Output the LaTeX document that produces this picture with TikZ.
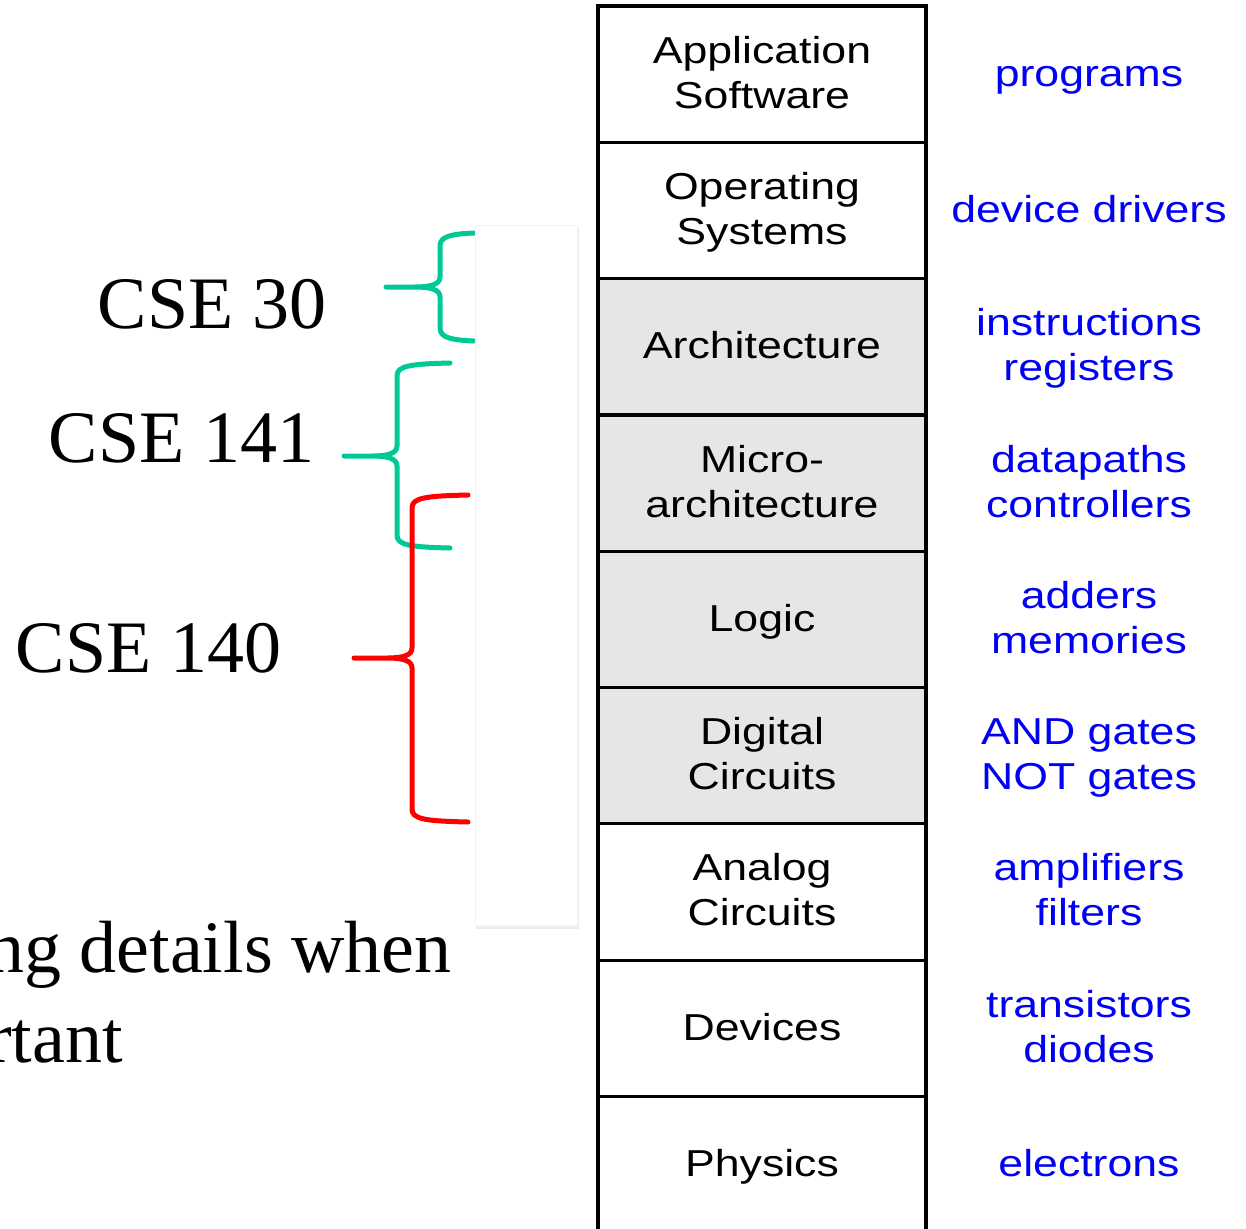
\documentclass[tikz,border=0pt]{standalone}
\usepackage{fontspec}
\setmainfont{Liberation Serif}
\newfontfamily\layerfont[FakeStretch=1.19]{Liberation Sans}
\definecolor{cseGreen}{RGB}{0,200,150}
\definecolor{cseRed}{RGB}{255,0,0}
\definecolor{noteBlue}{RGB}{0,0,245}
\definecolor{layerGray}{RGB}{230,230,230}

% curly brace: colour, arm end x, spine x, tip x, top y, tip y, bottom y
\newcommand{\coursebrace}[7]{%
  \draw[brace,#1] (#2,#5) .. controls ({#3+12},{#5+1}) and (#3,{#5+3}) .. (#3,{#5+13})
    -- (#3,{#6-10}) .. controls (#3,{#6-3}) and ({#3-8},#6) .. ({#3-25},#6) -- (#4,#6)
    -- ({#3-25},#6) .. controls ({#3-8},#6) and (#3,{#6+3}) .. (#3,{#6+10})
    -- (#3,{#7-13}) .. controls (#3,{#7-3}) and ({#3+12},{#7-1}) .. (#2,#7);}

\begin{document}
\begin{tikzpicture}[x=1pt,y=-1pt,
  layer/.style={draw=black, line width=3.2pt, minimum width=328pt,
    minimum height=136.3pt, inner sep=0pt, outer sep=0pt},
  shaded/.style={layer, fill=layerGray},
  plain/.style={layer, fill=white},
  layertext/.style={font=\layerfont\fontsize{37.5}{45}\selectfont,
    align=center, inner sep=0pt, anchor=base},
  notetext/.style={layertext, text=noteBlue},
  course/.style={font=\fontsize{74}{90}\selectfont, inner sep=0pt, anchor=base},
  brace/.style={line width=5pt, line cap=round, line join=round},
]
\useasboundingbox (0,0) rectangle (1246,1228);

% abstraction layers
\node[plain]  (app)  at (762,74.15)   {};
\node[plain]  (os)   at (762,210.45)  {};
\node[shaded] (arch) at (762,346.75)  {};
\node[shaded] (uarch) at (762,483.05) {};
\node[shaded] (logic) at (762,619.35) {};
\node[shaded] (dig)  at (762,755.65)  {};
\node[plain]  (ana)  at (762,891.95)  {};
\node[plain]  (dev)  at (762,1028.25) {};
\node[plain]  (phys) at (762,1164.55) {};

% two-line labels sit on the baseline of their second line
\node[layertext] (appT)   at (762,108.15)  {Application\\Software};
\node[layertext] (osT)    at (762,244.45)  {Operating\\Systems};
\node[layertext] (archT)  at (762,358.75)  {Architecture};
\node[layertext] (uarchT) at (762,517.05)  {Micro-\\architecture};
\node[layertext] (logicT) at (762,631.35)  {Logic};
\node[layertext] (digT)   at (762,789.65)  {Digital\\Circuits};
\node[layertext] (anaT)   at (762,925.95)  {Analog\\Circuits};
\node[layertext] (devT)   at (762,1040.25) {Devices};
\node[layertext] (physT)  at (762,1176.55) {Physics};

% what each layer deals with
\node[notetext] (appN)   at (1089,86.15)   {programs};
\node[notetext] (osN)    at (1089,222.45)  {device drivers};
\node[notetext] (archN)  at (1089,380.75)  {instructions\\registers};
\node[notetext] (uarchN) at (1089,517.05)  {datapaths\\controllers};
\node[notetext] (logicN) at (1089,653.35)  {adders\\memories};
\node[notetext] (digN)   at (1089,789.65)  {AND gates\\NOT gates};
\node[notetext] (anaN)   at (1089,925.95)  {amplifiers\\filters};
\node[notetext] (devN)   at (1089,1062.25) {transistors\\diodes};
\node[notetext] (physN)  at (1089,1176.55) {electrons};

% course braces
\coursebrace{cseGreen}{474}{440}{386}{233}{287}{341}
\coursebrace{cseGreen}{450}{397}{344}{363}{456}{548}
\coursebrace{cseRed}{468}{412}{354}{495}{658}{822}

% blank strip with a soft shadow
\fill[black!7] (476,228) rectangle (579,929);
\fill[black!4] (476,227) rectangle (578,927);
\filldraw[fill=white, draw=black!5, line width=0.8pt] (475,225) rectangle (577,925);

% course names
\node[course] (cse30)  at (212,328)   {CSE 30};
\node[course] (cse141) at (181.5,462) {CSE 141};
\node[course] (cse140) at (148.5,672) {CSE 140};

% cut-off body text
\node[course, anchor=base west] (line1) at (-13,972)  {ng details when};
\node[course, anchor=base west] (line2) at (-13,1062) {rtant};
\end{tikzpicture}
\end{document}
